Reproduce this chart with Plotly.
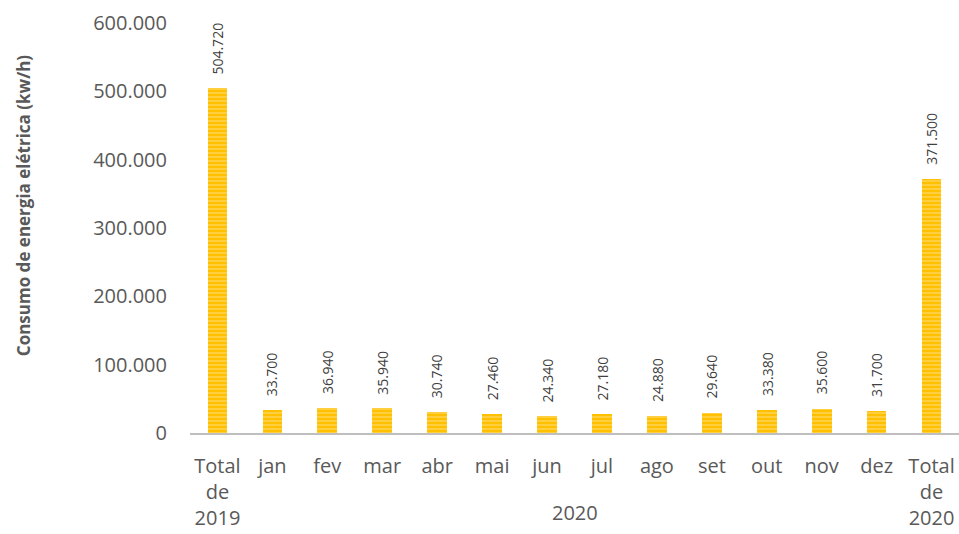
import plotly.graph_objects as go

categories = ["Total de 2019", "jan", "fev", "mar", "abr", "mai", "jun", "jul",
              "ago", "set", "out", "nov", "dez", "Total de 2020"]
tick_labels = ["Total<br>de<br>2019", "jan", "fev", "mar", "abr", "mai", "jun", "jul",
               "ago", "set", "out", "nov", "dez", "Total<br>de<br>2020"]
values = [504720, 33700, 36940, 35940, 30740, 27460, 24340, 27180,
          24880, 29640, 33380, 35600, 31700, 371500]
value_labels = ["504.720", "33.700", "36.940", "35.940", "30.740", "27.460", "24.340",
                "27.180", "24.880", "29.640", "33.380", "35.600", "31.700", "371.500"]
y_ticks = [0, 100000, 200000, 300000, 400000, 500000, 600000]
y_tick_labels = ["0", "100.000", "200.000", "300.000", "400.000", "500.000", "600.000"]
group_label = "2020"
y_title = "<b>Consumo de energia elétrica (kw/h)</b>"

FONT = "Open Sans"
GRAY = "#595959"

fig = go.Figure()
fig.add_trace(go.Bar(
    x=categories, y=values, width=0.36,
    marker=dict(color="#FFC000", line=dict(width=0),
                pattern=dict(shape="-", fgcolor="#FFE38F", bgcolor="#FFC000",
                             size=4, solidity=0.45)),
    hoverinfo="skip",
))

for c, v, t in zip(categories, values, value_labels):
    fig.add_annotation(x=c, y=v, text=t, textangle=-90, showarrow=False,
                       yanchor="bottom", yshift=12,
                       font=dict(family=FONT, size=14, color="#404040"))

fig.add_annotation(x=6.5, y=0, xref="x", yref="paper", text=group_label,
                   showarrow=False, yanchor="middle", yshift=-79,
                   font=dict(family=FONT, size=20, color=GRAY))

fig.add_annotation(x=-0.217, y=0.556, xref="paper", yref="paper", text=y_title,
                   textangle=-90, showarrow=False, xanchor="center", yanchor="middle",
                   font=dict(family=FONT, size=17, color=GRAY))

fig.update_layout(
    width=959, height=534,
    margin=dict(l=190, r=0, t=23, b=101),
    paper_bgcolor="white", plot_bgcolor="white",
    showlegend=False,
    font=dict(family=FONT, color=GRAY),
    bargap=0,
)
fig.update_xaxes(
    tickmode="array", tickvals=categories, ticktext=tick_labels,
    tickfont=dict(family=FONT, size=20, color=GRAY),
    showline=True, linecolor="#BFBFBF", linewidth=2,
    showgrid=False, ticks="", ticklabelstandoff=14,
)
fig.update_yaxes(
    range=[0, 600000], tickmode="array", tickvals=y_ticks, ticktext=y_tick_labels,
    tickfont=dict(family=FONT, size=20, color=GRAY),
    showgrid=False, zeroline=False, showline=False, ticks="",
    ticklabelstandoff=22,
)

fig.write_html("out.html",
               config={"displayModeBar": False, "staticPlot": True},
               post_script="document.body.style.margin='0';document.body.style.overflow='hidden';")
